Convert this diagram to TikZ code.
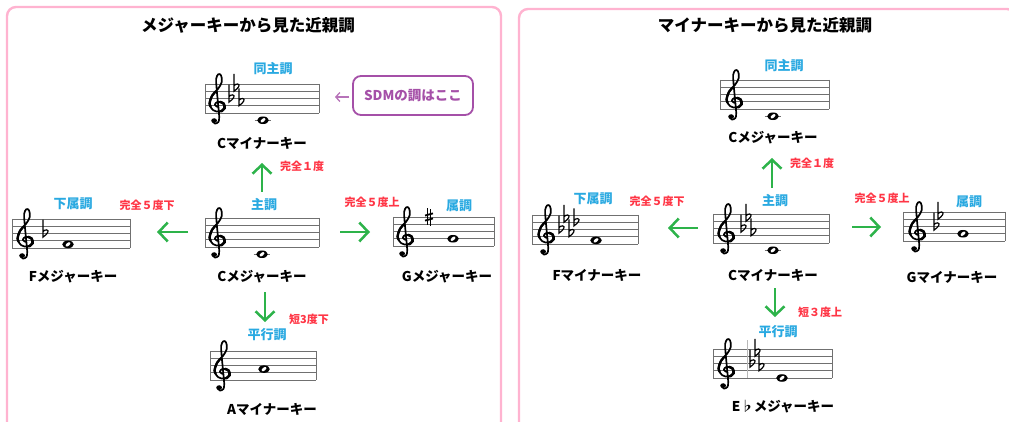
\documentclass[tikz,border=0pt]{standalone}
\usepackage{fontspec}
\newfontfamily\jp{Noto Sans CJK JP}
\usetikzlibrary{arrows.meta}
\definecolor{pinkb}{HTML}{FFB3D0}
\definecolor{lblue}{HTML}{29A9E1}
\definecolor{lred}{HTML}{FF3545}
\definecolor{agreen}{HTML}{2DB34A}
\definecolor{sdm}{HTML}{A550A8}
\definecolor{stf}{HTML}{707070}
\tikzset{
 panel/.style={draw=pinkb, line width=2.4pt, rounded corners=9pt},
 ttl/.style={font=\jp\bfseries\fontsize{16.5}{18}\selectfont, text=black, inner sep=0pt},
 keyname/.style={font=\jp\bfseries\fontsize{13.5}{15}\selectfont, inner sep=0pt},
 rel/.style={font=\jp\bfseries\fontsize{13}{15}\selectfont, text=lblue, inner sep=0pt},
 intv/.style={font=\jp\bfseries\fontsize{11}{13}\selectfont, text=lred, inner sep=0pt},
 garrow/.style={draw=agreen, line width=2.5pt, -{Straight Barb[length=9pt,width=19pt]}},
 staffline/.style={draw=stf, line width=0.9pt},
 sdmbox/.style={draw=sdm, line width=1.8pt, rounded corners=8pt, minimum width=120pt, minimum height=39pt, text=sdm, font=\jp\bfseries\fontsize{13.5}{15}\selectfont},
 sdmarrow/.style={draw=sdm!80, line width=1.3pt, -{Straight Barb[length=4pt,width=9pt]}},
}
\newcommand\mstaff[3]{%
 \foreach \k in {0,...,4}{\draw[staffline] (#1,{#3+\k*7.25}) -- (#2,{#3+\k*7.25});}
 \draw[staffline] (#1,#3) -- (#1,{#3+29});
 \draw[staffline] (#2,#3) -- (#2,{#3+29});
}
\newcommand\mclef[2]{%
 \begin{scope}[shift={(#1,{#2+21.75})}, x=8.8pt, y=7.25pt]
 \draw[line width=1.7pt, line cap=round, line join=round] plot[smooth, tension=0.6] coordinates {(0.05,-0.15) (-0.25,0.15) (0.1,0.55) (0.75,0.3) (0.85,-0.35) (0.3,-0.8) (-0.45,-0.6) (-0.85,0.3) (-0.55,1.4) (0.1,2.3) (0.55,3.3) (0.45,4.2) (0.15,4.35) (-0.1,3.7) (-0.05,2.5) (0.1,0.5) (0.25,-1.5) (0.15,-2.25) (-0.25,-2.45) (-0.5,-2.1)};
 \draw[line width=2.6pt, line cap=round] plot[smooth, tension=0.6] coordinates {(0.35,0.52) (0.75,0.3) (0.85,-0.35) (0.45,-0.78)};
 \draw[line width=2.4pt, line cap=round] plot[smooth, tension=0.6] coordinates {(-0.7,-0.1) (-0.85,0.3) (-0.55,1.4) (-0.1,2.0)};
 \fill (-0.33,-2.05) circle (0.33);
 \end{scope}}
\newcommand\mflat[3]{%
 \begin{scope}[shift={(#1,{#2+29-#3*3.625})}, x=7.25pt, y=7.25pt]
 \draw[line width=1.2pt] (0,1.9) -- (0,-0.5) .. controls (0.6,-0.1) and (0.95,0.45) .. (0.5,0.5) .. controls (0.3,0.52) and (0.1,0.4) .. (0,0.25);
 \end{scope}}
\newcommand\msharp[3]{%
 \begin{scope}[shift={(#1,{#2+29-#3*3.625})}, x=7.25pt, y=7.25pt]
 \draw[line width=0.9pt] (-0.25,-1.05)--(-0.25,1.25) (0.25,-1.25)--(0.25,1.05);
 \draw[line width=1.8pt] (-0.55,-0.5)--(0.55,-0.2) (-0.55,0.2)--(0.55,0.5);
 \end{scope}}
\newcommand\mnote[3]{%
 \begin{scope}[shift={(#1,{#2+29-#3*3.625})}, x=7.25pt, y=7.25pt]
 \ifnum#3<-1 \draw[staffline] (-1.15,0)--(1.15,0);\fi
 \fill (0,0) ellipse [x radius=0.8, y radius=0.52];
 \fill[white, rotate=40] (0,0) ellipse [x radius=0.4, y radius=0.21];
 \end{scope}}
\begin{document}
\begin{tikzpicture}[x=1pt,y=-1pt]
\useasboundingbox (0,0) rectangle (1009,422);
\fill[white] (0,0) rectangle (1009,422);
\clip (0,0) rectangle (1009,422);
% ---------------- left panel ----------------
\draw[panel] (7,7) rectangle (501,445);
\node[ttl] (t1) at (248,25) {メジャーキーから見た近親調};
% top: C minor
\node[rel] (l_dou) at (273,69) {同主調};
\mstaff{205}{319}{84}
\mclef{217}{84}
\mflat{229}{84}{4}\mflat{234}{84}{7}\mflat{239}{84}{3}
\mnote{263}{84}{-2}
\node[keyname] (l_cm) at (262,143) {Cマイナーキー};
\node[sdmbox] (sdm) at (413,95.5) {SDMの調はここ};
\coordinate (sdmtail) at (349,97);
\coordinate (sdmhead) at (335,97);
\draw[sdmarrow] (sdmtail) -- (sdmhead);
% main: C major
\node[rel] (l_shu) at (264,205) {主調};
\mstaff{205}{319}{218}
\mclef{217}{218}
\mnote{262}{218}{-2}
\node[keyname] (l_c) at (262,277) {Cメジャーキー};
% up arrow
\coordinate (lu1) at (262,192);
\coordinate (lu2) at (262,163);
\draw[garrow] (lu1) -- (lu2);
\node[intv] (l_i1) at (302,166) {完全１度};
% left: F major
\node[rel] (l_ka) at (73,204) {下属調};
\mstaff{12}{130}{219}
\mclef{25}{219}
\mflat{43}{219}{4}
\mnote{68}{219}{1}
\node[keyname] (l_f) at (73,277) {Fメジャーキー};
\coordinate (ll1) at (188,232);
\coordinate (ll2) at (157,232);
\draw[garrow] (ll1) -- (ll2);
\node[intv] (l_i2) at (147,205) {完全５度下};
% right: G major
\node[rel] (l_zo) at (459,206) {属調};
\mstaff{393}{494}{217}
\mclef{405}{217}
\msharp{429}{217}{8}
\mnote{453}{217}{2}
\node[keyname] (l_g) at (447,277) {Gメジャーキー};
\coordinate (lr1) at (340,232);
\coordinate (lr2) at (370,232);
\draw[garrow] (lr1) -- (lr2);
\node[intv] (l_i3) at (372,202) {完全５度上};
% bottom: A minor
\coordinate (ld1) at (265,292);
\coordinate (ld2) at (265,322);
\draw[garrow] (ld1) -- (ld2);
\node[intv] (l_i4) at (309,319) {短3度下};
\node[rel] (l_hei) at (267,335) {平行調};
\mstaff{210}{316}{351}
\mclef{222}{351}
\mnote{264}{351}{3}
\node[keyname] (l_am) at (272,409) {Aマイナーキー};
% ---------------- right panel ----------------
\draw[panel] (519,9) rectangle (1016,445);
\node[ttl] (t2) at (765,25) {マイナーキーから見た近親調};
% top: C major
\node[rel] (r_dou) at (784,66) {同主調};
\mstaff{720}{829}{80}
\mclef{734}{80}
\mnote{773}{80}{-2}
\node[keyname] (r_c) at (773,138) {Cメジャーキー};
\coordinate (ru1) at (772,188);
\coordinate (ru2) at (772,158);
\draw[garrow] (ru1) -- (ru2);
\node[intv] (r_i1) at (812,163) {完全１度};
% main: C minor
\node[rel] (r_shu) at (775,201) {主調};
\mstaff{713}{829}{214}
\mclef{726}{214}
\mflat{741}{214}{4}\mflat{746}{214}{7}\mflat{751}{214}{3}
\mnote{773}{214}{-2}
\node[keyname] (r_cm) at (773,275) {Cマイナーキー};
% left: F minor
\node[rel] (r_ka) at (593,199) {下属調};
\mstaff{532}{638}{215}
\mclef{546}{215}
\mflat{559}{215}{4}\mflat{564}{215}{7}\mflat{569}{215}{3}\mflat{574}{215}{6}
\mnote{596}{215}{1}
\node[keyname] (r_fm) at (597,275) {Fマイナーキー};
\coordinate (rl1) at (698,228);
\coordinate (rl2) at (668,228);
\draw[garrow] (rl1) -- (rl2);
\node[intv] (r_i2) at (657,201) {完全５度下};
% right: G minor
\node[rel] (r_zo) at (969,202) {属調};
\mstaff{903}{1005}{212}
\mclef{917}{212}
\mflat{934}{212}{4}\mflat{938}{212}{7}
\mnote{963}{212}{2}
\node[keyname] (r_gm) at (952,277) {Gマイナーキー};
\coordinate (rr1) at (852,227);
\coordinate (rr2) at (881,227);
\draw[garrow] (rr1) -- (rr2);
\node[intv] (r_i3) at (882,198) {完全５度上};
% bottom: Eb major
\coordinate (rd1) at (775,288);
\coordinate (rd2) at (775,317);
\draw[garrow] (rd1) -- (rd2);
\node[intv] (r_i4) at (820,312) {短３度上};
\node[rel] (r_hei) at (778,332) {平行調};
\mstaff{713}{832}{349}
\draw[stf!50, line width=0.6pt] (747,340) -- (747,378);
\mclef{726}{349}
\mflat{750}{349}{4}\mflat{755}{349}{7}\mflat{759}{349}{3}
\mnote{782}{349}{0}
\node[keyname] (r_eb) at (783,407) {E♭メジャーキー};
\end{tikzpicture}
\end{document}
